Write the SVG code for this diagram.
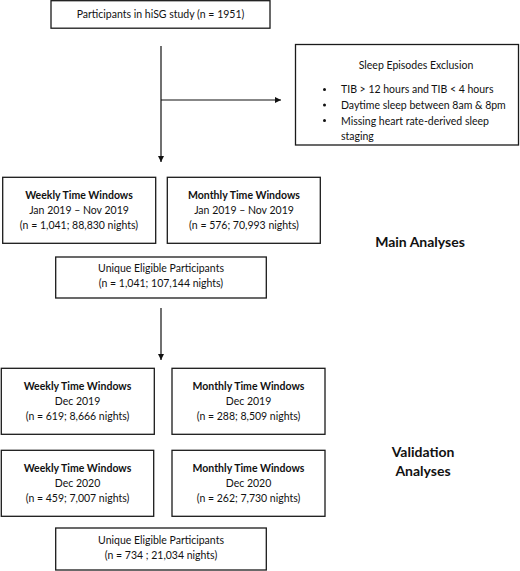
<svg xmlns="http://www.w3.org/2000/svg" width="520" height="571" viewBox="0 0 520 571">
<style>
.box{fill:#fff;stroke:#1a1a1a;stroke-width:1.3}
text{font-family:Lato,"Liberation Sans",sans-serif;font-size:10.5px;fill:#111;text-anchor:middle}
.b{font-weight:bold}
.lbl{font-weight:bold;font-size:14px}
.st{text-anchor:start}
.ln{stroke:#111;stroke-width:1.2;fill:none}
</style>
<defs>
<marker id="ah" viewBox="0 0 10 10" refX="10" refY="5" markerWidth="6" markerHeight="6" orient="auto" markerUnits="userSpaceOnUse">
<path d="M0,0 L10,5 L0,10 z" fill="#111"/>
</marker>
</defs>
<rect width="520" height="571" fill="#fff"/>
<g id="connectors">
<line class="ln" x1="161" y1="46" x2="161" y2="162" marker-end="url(#ah)"/>
<line class="ln" x1="161" y1="100" x2="281" y2="100" marker-end="url(#ah)"/>
<line class="ln" x1="161" y1="308" x2="161" y2="360" marker-end="url(#ah)"/>
</g>
<g id="n_participants">
<rect class="box" x="51" y="0.7" width="219" height="27.5"/>
<text x="160.5" y="18">Participants in hiSG study (n = 1951)</text>
</g>
<g id="n_exclusion">
<rect class="box" x="295.5" y="44.5" width="223" height="100.5"/>
<text x="416" y="69">Sleep Episodes Exclusion</text>
<circle cx="324.5" cy="89.5" r="1.5" fill="#111"/>
<circle cx="324.5" cy="105" r="1.5" fill="#111"/>
<circle cx="324.5" cy="120.5" r="1.5" fill="#111"/>
<text class="st" x="341" y="93">TIB &gt; 12 hours and TIB &lt; 4 hours</text>
<text class="st" x="341" y="109">Daytime sleep between 8am &amp; 8pm</text>
<text class="st" x="341" y="124.5">Missing heart rate-derived sleep</text>
<text class="st" x="341" y="140">staging</text>
</g>
<g id="n_weekly_main">
<rect class="box" x="2.7" y="177.3" width="153" height="66"/>
<text class="b" x="79" y="199">Weekly Time Windows</text>
<text x="79" y="214">Jan 2019 – Nov 2019</text>
<text x="79" y="229">(n = 1,041; 88,830 nights)</text>
</g>
<g id="n_monthly_main">
<rect class="box" x="167.3" y="177.3" width="153" height="66"/>
<text class="b" x="244" y="199">Monthly Time Windows</text>
<text x="244" y="214">Jan 2019 – Nov 2019</text>
<text x="244" y="229">(n = 576; 70,993 nights)</text>
</g>
<g id="l_main">
<text class="lbl" x="420" y="247">Main Analyses</text>
</g>
<g id="n_unique_main">
<rect class="box" x="55.7" y="257" width="210.6" height="41"/>
<text x="161" y="272">Unique Eligible Participants</text>
<text x="161" y="287">(n = 1,041; 107,144 nights)</text>
</g>
<g id="n_weekly_2019">
<rect class="box" x="1.3" y="368.3" width="153" height="66"/>
<text class="b" x="77.5" y="390">Weekly Time Windows</text>
<text x="77.5" y="405">Dec 2019</text>
<text x="77.5" y="420">(n = 619; 8,666 nights)</text>
</g>
<g id="n_monthly_2019">
<rect class="box" x="172" y="368.3" width="153" height="66"/>
<text class="b" x="248.5" y="390">Monthly Time Windows</text>
<text x="248.5" y="405">Dec 2019</text>
<text x="248.5" y="420">(n = 288; 8,509 nights)</text>
</g>
<g id="n_weekly_2020">
<rect class="box" x="1.3" y="450.3" width="152.4" height="66"/>
<text class="b" x="77.5" y="472">Weekly Time Windows</text>
<text x="77.5" y="487">Dec 2020</text>
<text x="77.5" y="502">(n = 459; 7,007 nights)</text>
</g>
<g id="n_monthly_2020">
<rect class="box" x="172" y="450.3" width="153" height="66"/>
<text class="b" x="248.5" y="472">Monthly Time Windows</text>
<text x="248.5" y="487">Dec 2020</text>
<text x="248.5" y="502">(n = 262; 7,730 nights)</text>
</g>
<g id="l_validation">
<text class="lbl" x="423" y="457">Validation</text>
<text class="lbl" x="423" y="476">Analyses</text>
</g>
<g id="n_unique_val">
<rect class="box" x="55.7" y="528" width="210.6" height="42"/>
<text x="161" y="544">Unique Eligible Participants</text>
<text x="161" y="559">(n = 734 ; 21,034 nights)</text>
</g>
</svg>
